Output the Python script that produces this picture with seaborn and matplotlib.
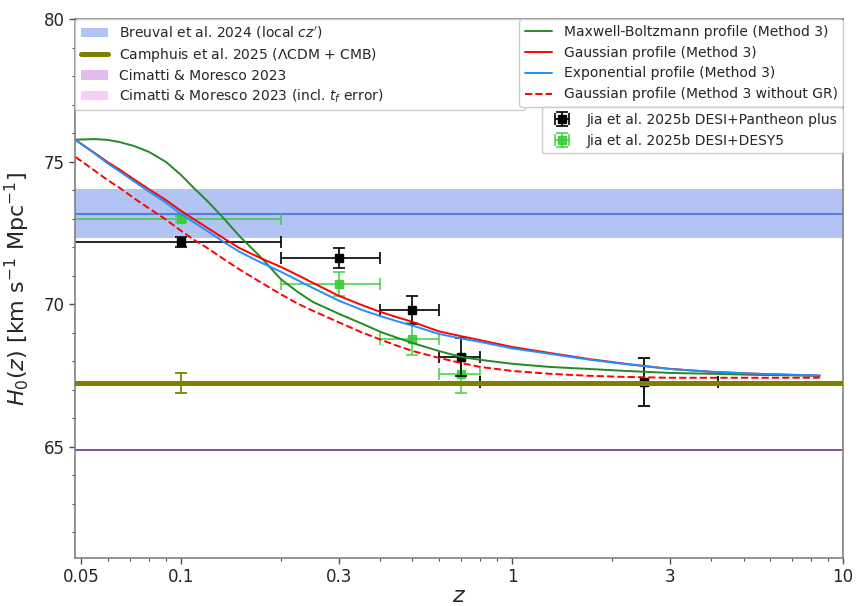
import numpy as np
import pandas as pd
import matplotlib
matplotlib.use("Agg")
import matplotlib.pyplot as plt
from matplotlib.patches import Patch
from matplotlib.lines import Line2D
import seaborn as sns

# ---------------- data ----------------
z_grid = [0.048, 0.055, 0.06, 0.065, 0.072, 0.08, 0.09, 0.1, 0.11, 0.12, 0.135, 0.15,
          0.175, 0.2, 0.225, 0.25, 0.3, 0.35, 0.4, 0.45, 0.5,
          0.6, 0.7, 0.8, 1.0, 1.3, 1.7, 2.2, 3.0, 4.0, 5.5, 8.5]
H_mb = [75.77, 75.79, 75.76, 75.69, 75.55, 75.34, 74.99, 74.53, 74.04, 73.62, 72.99, 72.39,
        71.62, 70.88, 70.43, 70.08, 69.66, 69.33, 69.03, 68.82, 68.64,
        68.36, 68.15, 68.05, 67.91, 67.80, 67.73, 67.66, 67.59, 67.56, 67.52, 67.49]
H_gauss = [75.76, 75.29, 74.98, 74.73, 74.38, 74.03, 73.65, 73.27, 72.96, 72.68, 72.30, 71.97,
           71.60, 71.31, 71.02, 70.75, 70.29, 69.98, 69.73, 69.54, 69.38,
           69.05, 68.88, 68.74, 68.50, 68.29, 68.08, 67.91, 67.73, 67.63, 67.56, 67.49]
H_expo = [75.76, 75.27, 74.94, 74.67, 74.31, 73.95, 73.56, 73.16, 72.85, 72.57, 72.17, 71.84,
          71.45, 71.14, 70.84, 70.57, 70.12, 69.81, 69.58, 69.40, 69.25,
          68.96, 68.80, 68.68, 68.45, 68.26, 68.06, 67.90, 67.73, 67.63, 67.56, 67.50]
H_gauss_noGR = [75.16, 74.67, 74.35, 74.09, 73.72, 73.36, 72.97, 72.57, 72.24, 71.97, 71.57, 71.22,
                70.75, 70.35, 70.02, 69.77, 69.36, 69.02, 68.76, 68.54, 68.36,
                68.12, 67.94, 67.80, 67.66, 67.56, 67.49, 67.45, 67.42, 67.42, 67.42, 67.42]

z_pts = [0.1, 0.3, 0.5, 0.7, 2.5]
z_lo = [0.02, 0.2, 0.4, 0.6, 0.8]
z_hi = [0.2, 0.4, 0.6, 0.8, 4.2]
H_pp = [72.18, 71.62, 69.80, 68.15, 67.28]
H_pp_err = [0.18, 0.35, 0.49, 0.67, 0.84]
H_y5 = [72.99, 70.71, 68.78, 67.56, 67.28]
H_y5_err = [0.12, 0.42, 0.55, 0.67, 0.84]

breuval_H, breuval_err = 73.17, 0.86
camphuis_H, camphuis_err = 67.24, 0.35
camphuis_z = 0.1
cimatti_H = 64.9

x_ticks = [0.05, 0.1, 0.3, 1, 3, 10]
x_ticklabels = ["0.05", "0.1", "0.3", "1", "3", "10"]
y_ticks = [65, 70, 75, 80]

curve_labels = ["Maxwell-Boltzmann profile (Method 3)", "Gaussian profile (Method 3)",
                "Exponential profile (Method 3)", "Gaussian profile (Method 3 without GR)"]

# ---------------- style ----------------
sns.set_style("ticks")
plt.rcParams["font.family"] = ["DejaVu Sans"]
plt.rcParams["mathtext.fontset"] = "dejavusans"

fig = plt.figure(figsize=(8.56, 6.06), dpi=100)
ax = fig.add_axes([0.0876, 0.0792, 0.985 - 0.0876, 0.9686 - 0.0792])
ax.set_xscale("log")

# bands / horizontal lines
ax.axhspan(breuval_H - breuval_err, breuval_H + breuval_err, color="royalblue",
           alpha=0.4, lw=0, zorder=0)
ax.axhline(breuval_H, color="royalblue", alpha=0.8, lw=1.5, zorder=0.5)
ax.axhline(camphuis_H, color="olive", lw=3.6, zorder=3)
ax.errorbar([camphuis_z], [camphuis_H], yerr=[camphuis_err], fmt="none",
            ecolor="olive", elinewidth=1.3, capsize=4, capthick=1.3, zorder=3)
ax.axhline(cimatti_H, color="rebeccapurple", lw=1.2, zorder=1)

# curves
styles = [("forestgreen", "-"), ("red", "-"), ("dodgerblue", "-"), ("red", "--")]
for vals, lab, (col, ls) in zip([H_mb, H_gauss, H_expo, H_gauss_noGR], curve_labels, styles):
    df = pd.DataFrame({"z": z_grid, "H": vals})
    sns.lineplot(data=df, x="z", y="H", ax=ax, color=col, linestyle=ls, lw=1.4,
                 label=lab, zorder=2.5, legend=False)

# data points
zp = np.array(z_pts)
xerr = [zp - np.array(z_lo), np.array(z_hi) - zp]
e_y5 = ax.errorbar(z_pts, H_y5, yerr=H_y5_err, xerr=xerr, fmt="s", color="limegreen",
                   ms=5.5, elinewidth=1.2, capsize=4, capthick=1.2, alpha=0.85,
                   zorder=2, label="Jia et al. 2025b DESI+DESY5")
e_pp = ax.errorbar(z_pts, H_pp, yerr=H_pp_err, xerr=xerr, fmt="s", color="black",
                   ms=5.5, elinewidth=1.2, capsize=4, capthick=1.2,
                   zorder=2.2, label="Jia et al. 2025b DESI+Pantheon plus")

# axes
ax.set_xlim(0.0478, 10)
ax.set_ylim(61.1, 80)
ax.set_xticks(x_ticks)
ax.set_xticklabels(x_ticklabels)
ax.set_yticks(y_ticks)
ax.yaxis.set_minor_locator(matplotlib.ticker.MultipleLocator(1))
ax.xaxis.set_minor_formatter(matplotlib.ticker.NullFormatter())
ax.tick_params(axis="both", which="major", labelsize=12, length=4, width=1, color="0.3")
ax.tick_params(axis="both", which="minor", length=2, width=0.8, color="0.3")
for sp in ax.spines.values():
    sp.set_color("0.5")
    sp.set_linewidth(1.2)
ax.set_xlabel("$z$", fontsize=16, labelpad=0)
ax.set_ylabel(r"$H_0(z)$ [km s$^{-1}$ Mpc$^{-1}$]", fontsize=16, labelpad=8)

# legends
h1 = [Patch(facecolor="royalblue", alpha=0.4, edgecolor="none"),
      Line2D([], [], color="olive", lw=3.6),
      Patch(facecolor="mediumorchid", alpha=0.4, edgecolor="none"),
      Patch(facecolor="violet", alpha=0.4, edgecolor="none")]
l1_labels = ["Breuval et al. 2024 (local $cz'$)", r"Camphuis et al. 2025 ($\Lambda$CDM + CMB)",
             "Cimatti & Moresco 2023", "Cimatti & Moresco 2023 (incl. $t_f$ error)"]
leg1 = ax.legend(h1, l1_labels, loc="upper left", bbox_to_anchor=(0, 0, 0.586, 1),
                 mode="expand", borderaxespad=0, fontsize=10, framealpha=1,
                 labelspacing=0.35)
ax.add_artist(leg1)

h2 = [Line2D([], [], color=c, linestyle=ls, lw=1.4) for c, ls in styles]
leg2 = ax.legend(h2, curve_labels, loc="upper right", borderaxespad=0, fontsize=10,
                 framealpha=1)
ax.add_artist(leg2)

leg3 = ax.legend([e_pp, e_y5], ["Jia et al. 2025b DESI+Pantheon plus", "Jia et al. 2025b DESI+DESY5"],
                 loc="upper right", bbox_to_anchor=(1, 0.836), borderaxespad=0,
                 fontsize=10, framealpha=1)

fig.savefig("out.png", dpi=100)
